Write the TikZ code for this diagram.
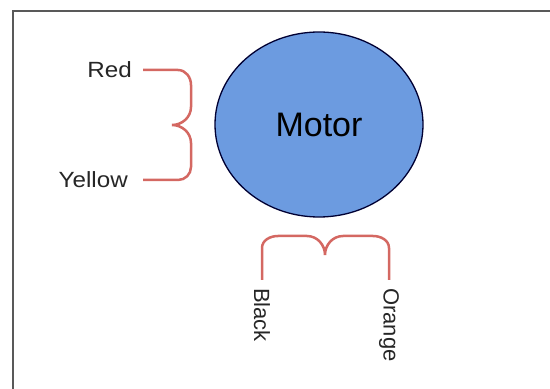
\documentclass[tikz,border=0pt]{standalone}
\usepackage{fontspec}
\setmainfont{Liberation Sans}
\usetikzlibrary{shapes, positioning, calc}
\definecolor{wirered}{RGB}{212,104,98}
\definecolor{motorblue}{RGB}{108,155,224}

\begin{document}
\begin{tikzpicture}[x=1pt, y=1pt,
    motor/.style={ellipse, draw=black!80!blue, line width=1.3pt, fill=motorblue, minimum width=208pt, minimum height=185pt, inner sep=0pt, font=\fontsize{34}{40}\selectfont},
    lead/.style={inner sep=0pt, text=black!85, font=\fontsize{22}{26}\selectfont},
    wide/.style={xscale=1.1, transform shape},
    brace/.style={wirered, line width=2.5pt}]
    \useasboundingbox (0,0) rectangle (550,389);
    \draw [black!65, line width=2pt] (13,-2) -- (13,378) -- (552,378);
    \node [motor] (motor) at (319,264.5) {Motor};
    % left pair
    \coordinate (redend) at (143,319);
    \coordinate (yelend) at (143,209);
    \coordinate (ltip) at (172,264);
    \node [lead, wide, anchor=east] (red) at ([xshift=-11pt]redend) {Red};
    \node [lead, wide, anchor=east] (yellow) at ([xshift=-15pt]yelend) {Yellow};
    \draw [brace] (redend) -- (178,319) to[out=0,in=90] (191,304) -- (191,282) to[out=-90,in=0] (ltip)
        to[out=0,in=90] (191,246) -- (191,222) to[out=-90,in=0] (178,209) -- (yelend);
    % bottom pair
    \coordinate (blkend) at (262,109);
    \coordinate (orgend) at (389,109);
    \coordinate (btip) at (325,134);
    \node [lead, rotate=-90, anchor=west] (black) at ([yshift=-8pt]blkend) {Black};
    \node [lead, rotate=-90, anchor=west] (orange) at ([yshift=-8pt]orgend) {Orange};
    \draw [brace] (blkend) -- (262,141) to[out=90,in=180] (278,153) -- (307,153) to[out=0,in=90] (btip)
        to[out=90,in=180] (343,153) -- (373,153) to[out=0,in=90] (389,141) -- (orgend);
\end{tikzpicture}
\end{document}
